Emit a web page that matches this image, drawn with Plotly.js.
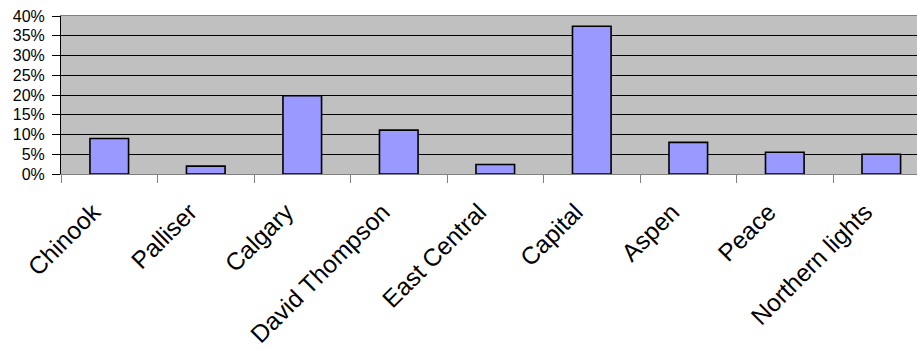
<!DOCTYPE html>
<html>
<head>
<meta charset="utf-8">
<script src="https://cdn.plot.ly/plotly-3.0.1.min.js"></script>
<style>html,body{margin:0;padding:0;background:#fff;}#chart{width:917px;height:350px;}</style>
</head>
<body>
<div id="chart"></div>
<script>
const categories = ["Chinook", "Palliser", "Calgary", "David Thompson", "East Central", "Capital", "Aspen", "Peace", "Northern lights"];
const shares = [0.090, 0.020, 0.198, 0.111, 0.024, 0.374, 0.080, 0.055, 0.050];
const yTickValues = [0, 0.05, 0.10, 0.15, 0.20, 0.25, 0.30, 0.35, 0.40];
const yTickLabels = ["0%", "5%", "10%", "15%", "20%", "25%", "30%", "35%", "40%"];

const trace = {
  type: "bar",
  x: categories,
  y: shares,
  width: 0.4,
  marker: {color: "#9999ff", line: {color: "#000000", width: 1.6}},
  hoverinfo: "x+y"
};

const layout = {
  width: 917, height: 350,
  margin: {l: 61, r: 0, t: 16, b: 176, pad: 0},
  paper_bgcolor: "#ffffff",
  plot_bgcolor: "#c0c0c0",
  font: {family: "Liberation Sans, Arial, sans-serif", color: "#000000"},
  showlegend: false,
  bargap: 0.6,
  xaxis: {
    type: "category",
    range: [-0.5, 8.37],
    tickangle: -45,
    tickfont: {size: 24.5, color: "#000000"},
    ticks: "outside",
    tickson: "boundaries",
    ticklen: 8,
    tickcolor: "#808080",
    tickwidth: 1,
    ticklabelstandoff: 13,
    ticklabelshift: -16,
    showline: true,
    linecolor: "#808080",
    linewidth: 1,
    mirror: true,
    showgrid: false,
    zeroline: false,
    fixedrange: true
  },
  yaxis: {
    range: [0, 0.40],
    tickvals: yTickValues,
    ticktext: yTickLabels,
    tickfont: {size: 16, color: "#000000"},
    ticks: "outside",
    ticklen: 8,
    tickcolor: "#000000",
    tickwidth: 1,
    ticklabelstandoff: 4,
    showline: true,
    linecolor: "#000000",
    linewidth: 1,
    showgrid: true,
    gridcolor: "#000000",
    gridwidth: 1,
    zeroline: false,
    fixedrange: true
  }
};

Plotly.newPlot("chart", [trace], layout, {displayModeBar: false, staticPlot: true});
</script>
</body>
</html>
